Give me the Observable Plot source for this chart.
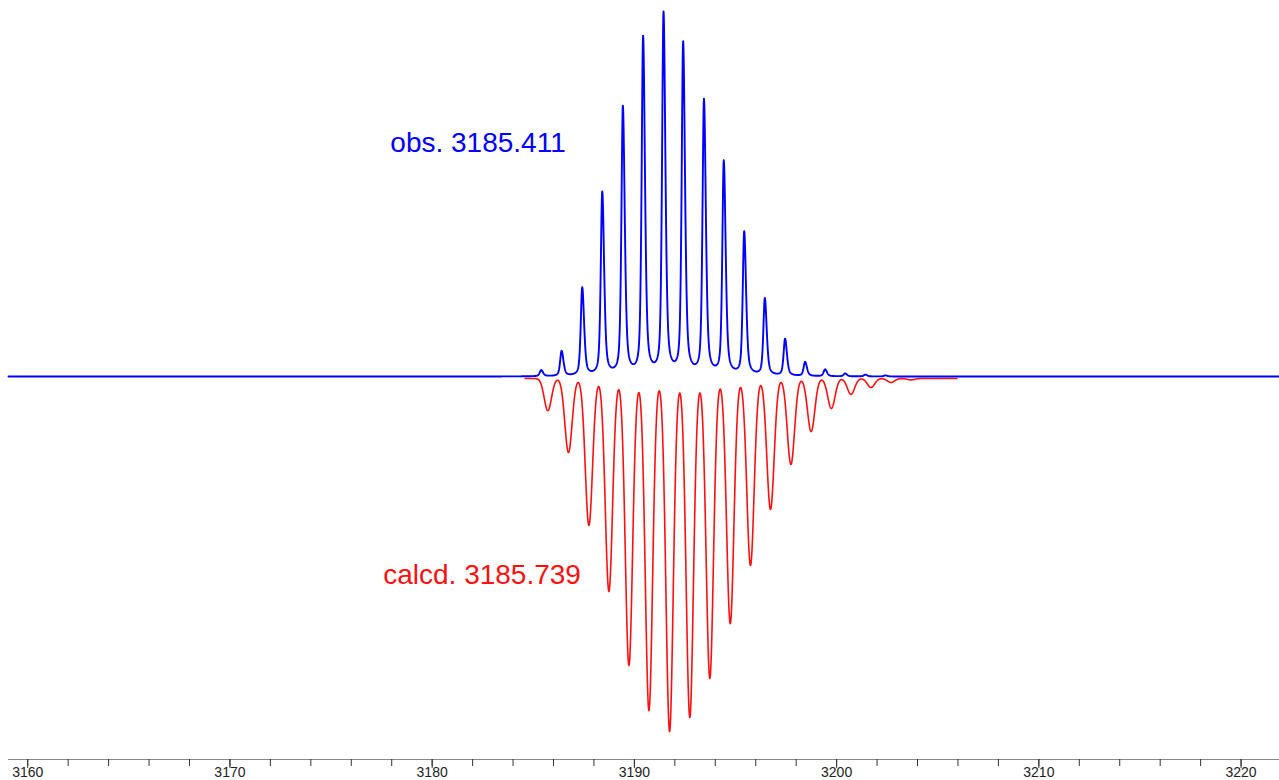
<!DOCTYPE html>
<html>
<head>
<meta charset="utf-8">
<script src="https://cdn.jsdelivr.net/npm/d3@7"></script>
<script src="https://cdn.jsdelivr.net/npm/@observablehq/plot@0.6"></script>
<style>
  html, body { margin: 0; padding: 0; background: #fff; }
  #chart svg { display: block; }
</style>
</head>
<body>
<div id="chart"></div>
<script>
// Observed isotope cluster: centroid m/z and relative intensity (tallest = 100)
const obsMz  = [3185.39, 3186.40, 3187.42, 3188.41, 3189.43, 3190.43, 3191.44, 3192.41, 3193.44,
                3194.42, 3195.43, 3196.45, 3197.45, 3198.44, 3199.43, 3200.42, 3201.42, 3202.41];
const obsInt = [1.7, 6.9, 24.4, 50.7, 74.2, 93.4, 100.0, 91.7, 75.9,
                59.0, 39.6, 21.3, 10.2, 3.9, 1.9, 0.8, 0.5, 0.3];

// Calculated isotope pattern, same intensity units, drawn downward
const calcMz  = [3185.72, 3186.74, 3187.75, 3188.74, 3189.73, 3190.72, 3191.74, 3192.74, 3193.73, 3194.74,
                 3195.74, 3196.73, 3197.74, 3198.74, 3199.74, 3200.71, 3201.70, 3202.69, 3203.68];
const calcInt = [8.9, 20.5, 40.7, 59.0, 79.5, 92.0, 97.8, 93.9, 83.1, 67.9,
                 51.8, 36.3, 23.8, 14.7, 8.3, 4.4, 2.5, 1.1, 0.4];

// Acquired / simulated m/z windows
const obsRange  = [3159.05, 3221.9];
const calcRange = [3184.6, 3205.95];

// Annotations
const obsLabel  = "obs. 3185.411";
const calcLabel = "calcd. 3185.739";

// Axis ticks
const majorTicks = [3160, 3170, 3180, 3190, 3200, 3210, 3220];
const minorTicks = [3160, 3162, 3164, 3166, 3168, 3170, 3172, 3174, 3176, 3178, 3180, 3182, 3184, 3186,
                    3188, 3190, 3192, 3194, 3196, 3198, 3200, 3202, 3204, 3206, 3208, 3210, 3212, 3214,
                    3216, 3218, 3220];

// Profile peak shapes built from the centroid lists
const step = 0.01;
function obsShape(d) {
  const w = d < 0 ? 0.085 : 0.11;           // slightly tailing on the high-mass side
  const u = d / w;
  return 0.5 * Math.exp(-Math.LN2 * u * u) + 0.5 / (1 + u * u);
}
function calcShape(d) {
  const s = 0.18;
  return Math.exp(-(d * d) / (2 * s * s));
}
function profile(mzs, ints, [lo, hi], shape, sign, offset) {
  const out = [];
  const n = Math.round((hi - lo) / step);
  for (let i = 0; i <= n; ++i) {
    const x = lo + i * step;
    let v = 0;
    for (let k = 0; k < mzs.length; ++k) {
      const d = x - mzs[k];
      if (Math.abs(d) < 6) v += ints[k] * shape(d);
    }
    out.push({mz: x, value: offset + sign * v});
  }
  return out;
}

const obsProfile  = profile(obsMz, obsInt, obsRange, obsShape, 1, 0);
const calcProfile = profile(calcMz, calcInt, calcRange, calcShape, -1, -0.55);

const yMin = -106.1, yMax = 104.16;
const font = "'Liberation Sans', Arial, Helvetica, sans-serif";

const chart = Plot.plot({
  width: 1279,
  height: 780,
  marginLeft: 8,
  marginRight: 0,
  marginTop: 0,
  marginBottom: 21,
  style: {fontFamily: font, background: "#fff"},
  x: {domain: [3159.05, 3221.9], label: null},
  y: {domain: [yMin, yMax], axis: null},
  marks: [
    // axis baseline, minor and major ticks
    Plot.ruleY([yMin], {stroke: "#8a8a8a", strokeWidth: 1.2}),
    Plot.axisX(minorTicks, {anchor: "bottom", tickSize: 7, tickFormat: () => "", stroke: "#333", label: null}),
    Plot.axisX(majorTicks, {anchor: "bottom", tickSize: 9, tickFormat: () => "", stroke: "#333", label: null}),
    Plot.text(majorTicks, {x: d => d, y: () => yMin, text: d => String(d), dy: 8, lineAnchor: "top",
                           fill: "#222", fontSize: 14, fontFamily: font}),
    // spectra
    Plot.line(calcProfile, {x: "mz", y: "value", stroke: "#ff1010", strokeWidth: 1.6}),
    Plot.line(obsProfile, {x: "mz", y: "value", stroke: "#0000ff", strokeWidth: 1.9}),
    // annotations
    Plot.text([obsLabel], {x: () => 3177.93, y: () => 64.8, text: d => d, textAnchor: "start",
                           fill: "#0000ff", fontSize: 28, fontFamily: font}),
    Plot.text([calcLabel], {x: () => 3177.58, y: () => -55.1, text: d => d, textAnchor: "start",
                            fill: "#ff1010", fontSize: 28, fontFamily: font})
  ]
});
document.getElementById("chart").appendChild(chart);
</script>
</body>
</html>
